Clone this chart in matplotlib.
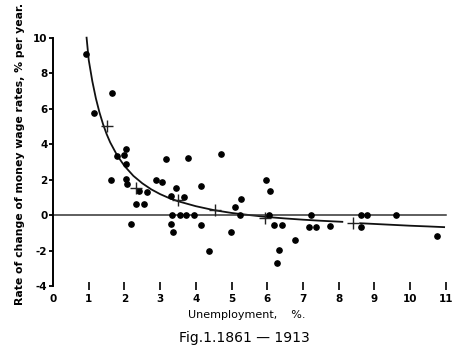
import matplotlib
matplotlib.use("Agg")
import matplotlib.pyplot as plt

# annual observations 1861-1913 (unemployment %, wage change % per year)
unemp = [0.92, 1.15, 1.65, 1.62, 1.78, 1.98, 2.04, 2.04, 2.04, 2.08,
         2.18, 2.31, 2.41, 2.56, 2.62, 2.88, 3.04, 3.16, 3.31, 3.31, 3.35,
         3.33, 3.44, 3.56, 3.68, 3.72, 3.77, 3.95, 4.15, 4.15, 4.38, 4.71,
         4.99, 5.09, 5.24, 5.27, 5.96, 6.07, 6.05, 6.19, 6.40, 6.34, 6.28,
         6.78, 7.21, 7.17, 7.36, 7.75, 8.61, 8.63, 8.79, 9.60, 10.75]
wages = [9.06, 5.76, 6.90, 2.00, 3.33, 3.37, 3.73, 2.89, 2.06, 1.74,
         -0.50, 0.60, 1.38, 0.60, 1.29, 1.99, 1.86, 3.15, 1.05, -0.49, -0.98,
         0.0, 1.55, 0.0, 1.01, 0.0, 3.21, 0.0, 1.65, -0.55, -2.00, 3.47,
         -0.94, 0.44, 0.0, 0.92, 1.96, 1.38, 0.0, -0.58, -0.58, -1.97, -2.72,
         -1.43, 0.0, -0.66, -0.66, -0.64, -0.66, 0.0, 0.0, 0.0, -1.20]

# group averages (crosses)
avg_u = [1.50, 2.31, 3.51, 4.53, 5.93, 8.40]
avg_w = [5.04, 1.52, 0.86, 0.30, -0.15, -0.42]

# fitted curve (drawn in two pieces, gap near the 8.4 cross)
curve_u1 = [0.94, 1.0, 1.1, 1.2, 1.3, 1.4, 1.5, 1.6, 1.8, 2.0, 2.25, 2.5, 2.75,
            3.0, 3.25, 3.5, 4.0, 4.5, 5.0, 5.5, 6.0, 6.5, 7.0, 7.5, 8.1]
curve_w1 = [10.0, 8.74, 7.55, 6.58, 5.79, 5.13, 4.57, 4.10, 3.35, 2.77, 2.21,
            1.79, 1.45, 1.18, 0.96, 0.78, 0.50, 0.28, 0.12, 0.0, -0.11, -0.19,
            -0.26, -0.32, -0.38]
curve_u2 = [8.6, 9.0, 9.5, 10.0, 10.5, 10.95]
curve_w2 = [-0.46, -0.50, -0.55, -0.60, -0.64, -0.68]

xticks = list(range(0, 12))
yticks = [-4, -2, 0, 2, 4, 6, 8, 10]

fig = plt.figure(figsize=(4.63, 3.56), dpi=100)
ax = fig.add_axes([0.1145, 0.1716, 0.864, 0.7475])

ax.plot(curve_u1, curve_w1, color="#111111", lw=1.3)
ax.plot(curve_u2, curve_w2, color="#111111", lw=1.3)
ax.plot([0, 11], [0, 0], color="#333333", lw=1.1)
ax.plot(unemp, wages, "o", color="black", ms=3.8)
ax.plot(avg_u, avg_w, "+", color="#222222", ms=9, mew=1.0)

ax.set_xlim(0, 11.2)
ax.set_ylim(-4.5, 10.5)

for s in ["top", "right", "bottom"]:
    ax.spines[s].set_visible(False)
ax.spines["left"].set_bounds(-4, 10)
ax.spines["left"].set_linewidth(1.4)
ax.spines["bottom"].set_position(("data", -4))

ax.set_yticks(yticks)
ax.set_yticklabels([str(v) for v in yticks], fontsize=7.5, fontweight="bold")
ax.tick_params(axis="y", direction="out", length=3, width=1.3, pad=1)

ax.set_xticks(xticks)
ax.set_xticklabels([str(v) for v in xticks], fontsize=7.5, fontweight="bold")
ax.tick_params(axis="x", direction="inout", length=6, width=1.2, pad=3)
ax.get_xticklines()[0].set_visible(False)

fig.text(0.043, 0.567, "Rate of change of money wage rates, % per year.",
         rotation=90, ha="center", va="center", fontsize=7.8, fontweight="bold")
fig.text(0.533, 0.115, "Unemployment,    %.", ha="center", va="center", fontsize=8)
fig.text(0.527, 0.051, "Fig.1.1861 \u2014 1913", ha="center", va="center", fontsize=10)

fig.savefig("out.png", dpi=100)
